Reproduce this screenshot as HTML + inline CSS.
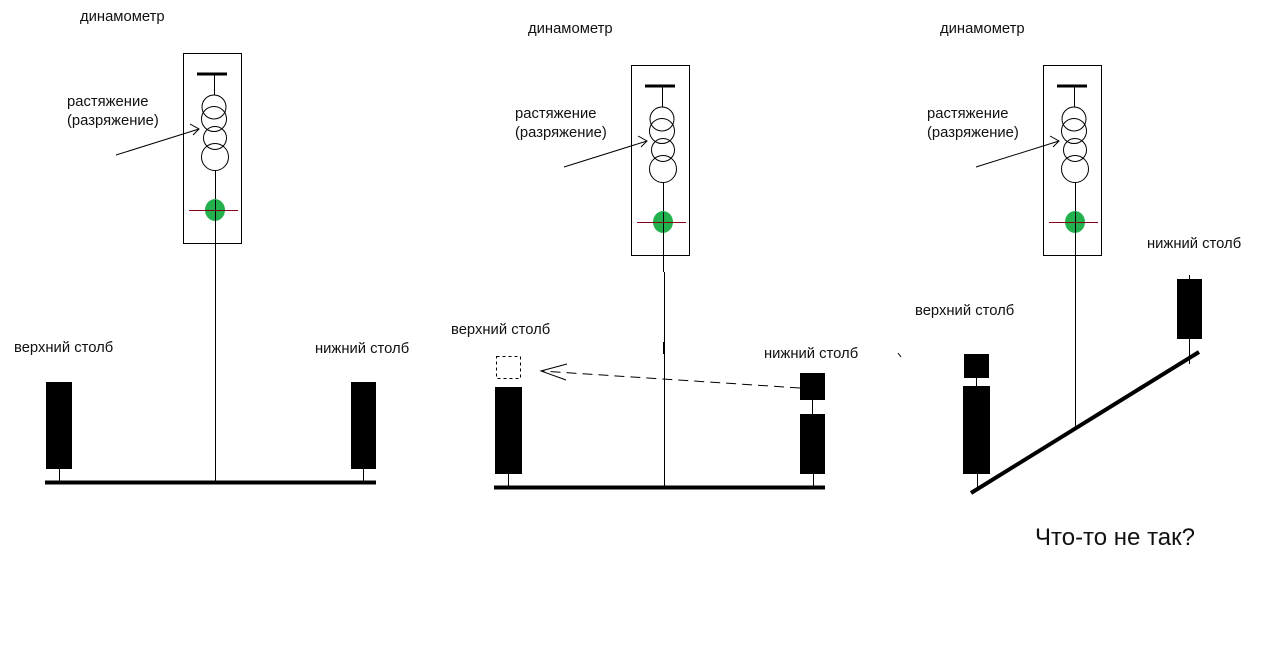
<!DOCTYPE html>
<html><head><meta charset="utf-8"><style>
body{margin:0;background:#fff;width:1264px;height:654px;overflow:hidden}
svg text{font-family:"Liberation Sans","DejaVu Sans",sans-serif;font-size:14.8px;fill:#111}
</style></head><body>
<svg width="1264" height="654" viewBox="0 0 1264 654" xmlns="http://www.w3.org/2000/svg">
<defs>
<g id="dyn">
<rect x="183.5" y="53.5" width="58" height="190" fill="none" stroke="#000" stroke-width="1"/>
<line x1="197" y1="74" x2="227" y2="74" stroke="#000" stroke-width="3"/>
<line x1="214.5" y1="75" x2="214.5" y2="95" stroke="#000"/>
<circle cx="214" cy="107" r="12" fill="none" stroke="#000"/>
<circle cx="214" cy="119" r="12.5" fill="none" stroke="#000"/>
<circle cx="215" cy="138" r="11.5" fill="none" stroke="#000"/>
<circle cx="215" cy="157" r="13.5" fill="none" stroke="#000"/>
<line x1="215.5" y1="170" x2="215.5" y2="260" stroke="#000"/>
<ellipse cx="215" cy="210" rx="10" ry="11" fill="#22b14c"/>
<line x1="189" y1="210.5" x2="238" y2="210.5" stroke="#880015"/>
<line x1="215.5" y1="200" x2="215.5" y2="221" stroke="#000"/>
<line x1="116" y1="155" x2="199" y2="129" stroke="#000"/>
<polyline points="190,124 199,129 193,135" fill="none" stroke="#000"/>
<text x="80" y="21">динамометр</text>
<text x="67" y="106">растяжение</text>
<text x="67" y="125">(разряжение)</text>
</g>
</defs>
<!-- panel 1 -->
<use href="#dyn"/>
<line x1="215.5" y1="260" x2="215.5" y2="482" stroke="#000"/>
<rect x="46" y="382" width="26" height="87" fill="#000"/>
<rect x="351" y="382" width="25" height="87" fill="#000"/>
<line x1="59.5" y1="469" x2="59.5" y2="482" stroke="#000"/>
<line x1="363.5" y1="469" x2="363.5" y2="482" stroke="#000"/>
<line x1="45" y1="482.5" x2="376" y2="482.5" stroke="#000" stroke-width="4"/>
<text x="14" y="352">верхний столб</text>
<text x="315" y="353">нижний столб</text>
<!-- panel 2 -->
<use href="#dyn" transform="translate(448,12)"/>
<line x1="664.5" y1="272" x2="664.5" y2="487" stroke="#000"/>
<line x1="664" y1="342" x2="664" y2="354" stroke="#000" stroke-width="2"/>
<rect x="495" y="387" width="27" height="87" fill="#000"/>
<rect x="496.5" y="356.5" width="24" height="22" fill="none" stroke="#000" stroke-dasharray="3,3"/>
<rect x="800" y="373" width="25" height="27" fill="#000"/>
<rect x="800" y="414" width="25" height="60" fill="#000"/>
<line x1="812.5" y1="400" x2="812.5" y2="414" stroke="#000"/>
<line x1="508.5" y1="474" x2="508.5" y2="487" stroke="#000"/>
<line x1="813.5" y1="474" x2="813.5" y2="487" stroke="#000"/>
<line x1="494" y1="487.5" x2="825" y2="487.5" stroke="#000" stroke-width="4"/>
<line x1="800" y1="388" x2="541" y2="371" stroke="#000" stroke-dasharray="10,6"/>
<polyline points="567,364 541,371 566,380" fill="none" stroke="#000"/>
<text x="451" y="334">верхний столб</text>
<text x="764" y="358">нижний столб</text>
<!-- panel 3 -->
<use href="#dyn" transform="translate(860,12)"/>
<line x1="1075.5" y1="272" x2="1075.5" y2="428" stroke="#000"/>
<rect x="964" y="354" width="25" height="24" fill="#000"/>
<rect x="963" y="386" width="27" height="88" fill="#000"/>
<line x1="976.5" y1="378" x2="976.5" y2="386" stroke="#000"/>
<line x1="977.5" y1="474" x2="977.5" y2="490" stroke="#000"/>
<rect x="1177" y="279" width="25" height="60" fill="#000"/>
<line x1="1189.5" y1="275" x2="1189.5" y2="279" stroke="#000"/>
<line x1="1189.5" y1="339" x2="1189.5" y2="364" stroke="#000"/>
<line x1="971" y1="493" x2="1199" y2="352" stroke="#000" stroke-width="4"/>
<line x1="898" y1="353" x2="901" y2="357" stroke="#000"/>
<text x="915" y="315">верхний столб</text>
<text x="1147" y="248">нижний столб</text>
<text x="1035" y="545" style="font-size:24px">Что-то не так?</text>
</svg>
</body></html>
